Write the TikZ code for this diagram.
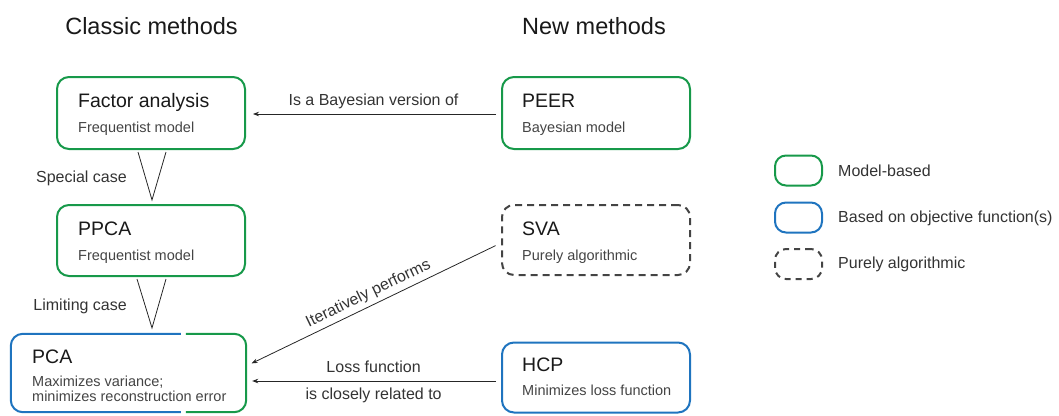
\documentclass[tikz,border=0pt]{standalone}
\usepackage{fontspec}
\setmainfont{Liberation Sans}
\usetikzlibrary{arrows.meta,calc}
\definecolor{mgreen}{HTML}{17994A}
\definecolor{mblue}{HTML}{1F74BF}
\definecolor{dgray}{HTML}{444444}
\definecolor{tgray}{HTML}{333333}
\begin{document}
\begin{tikzpicture}[x=1pt,y=-1pt,
  box/.style={rectangle,rounded corners=12pt,line width=2pt,inner sep=0pt,minimum width=188pt,minimum height=72pt},
  greenbox/.style={box,draw=mgreen},
  bluebox/.style={box,draw=mblue},
  dashbox/.style={box,draw=dgray,dash pattern=on 7pt off 5pt},
  lgbox/.style={rectangle,rounded corners=11pt,line width=2pt,inner sep=0pt,minimum width=47pt,minimum height=30pt},
  ttl/.style={anchor=base west,inner sep=0pt,text=black!90,font=\fontsize{19.5}{22}\selectfont},
  sub/.style={anchor=base west,inner sep=0pt,text=dgray,font=\fontsize{14.5}{15}\selectfont},
  elab/.style={inner sep=0pt,text=tgray,font=\fontsize{16}{18}\selectfont},
  head/.style={anchor=base,inner sep=0pt,text=black!90,font=\fontsize{23.5}{26}\selectfont},
  conn/.style={line width=0.8pt,draw=black!85,-{Stealth[length=6pt,width=4.5pt]}},
  vline/.style={line width=0.8pt,draw=black!85}]
\useasboundingbox (0,0) rectangle (1059,415);
% headings
\node[head] (h1) at (151.5,34) {Classic methods};
\node[head] (h2) at (594,34) {New methods};
% boxes
\node[greenbox] (fa) at (151,113) {};
\node[greenbox,minimum height=71pt] (ppca) at (151,240.5) {};
\node[rectangle,inner sep=0pt,minimum width=235pt,minimum height=80pt] (pca) at (128.5,373) {};
\node[greenbox] (peer) at (596,113) {};
\node[dashbox,minimum height=70pt] (sva) at (596,240) {};
\node[bluebox,minimum height=70pt] (hcp) at (596,377.5) {};
% split PCA border
\draw[mblue,line width=2pt,rounded corners=12pt] ($(pca.north west)+(170,1)$) -- ($(pca.north west)+(0,1)$) -- ($(pca.south west)+(0,-1)$) -- ($(pca.south west)+(170,-1)$);
\draw[mgreen,line width=2pt,rounded corners=12pt] ($(pca.north west)+(175,1)$) -- ($(pca.north east)+(0,1)$) -- ($(pca.south east)+(0,-1)$) -- ($(pca.south west)+(175,-1)$);
% box texts
\node[ttl] (fat) at (78,107.5) {Factor analysis};
\node[sub] (fas) at (78,132) {Frequentist model};
\node[ttl] (ppcat) at (78,235.5) {PPCA};
\node[sub] (ppcas) at (78,260) {Frequentist model};
\node[ttl] (pcat) at (32,363.5) {PCA};
\node[sub] (pcas1) at (32,386.5) {Maximizes variance;};
\node[sub] (pcas2) at (32,401.5) {minimizes reconstruction error};
\node[ttl] (peert) at (522,107.5) {PEER};
\node[sub] (peers) at (522,132) {Bayesian model};
\node[ttl] (svat) at (522,235.5) {SVA};
\node[sub] (svas) at (522,260) {Purely algorithmic};
\node[ttl] (hcpt) at (522,371.5) {HCP};
\node[sub] (hcps) at (522,395.5) {Minimizes loss function};
% V connectors
\coordinate (v1l) at (138,152);
\coordinate (v1a) at (152,200);
\coordinate (v1r) at (166,152);
\draw[vline] (v1l) -- (v1a) -- (v1r);
\coordinate (v2l) at (137,279);
\coordinate (v2a) at (152,328);
\coordinate (v2r) at (166,279);
\draw[vline] (v2l) -- (v2a) -- (v2r);
\node[elab,anchor=base east] (sc) at (127,182) {Special case};
\node[elab,anchor=base east] (lc) at (127,310) {Limiting case};
% arrows
\draw[conn,shorten <=5pt,shorten >=7pt] ([yshift=-1pt]peer.west) -- ([yshift=-1pt]peer.west -| fa.east)
  node[elab,midway,anchor=base,yshift=9pt] (l1) {Is a Bayesian version of};
\draw[conn,shorten <=6pt,shorten >=6pt] ([yshift=-3pt]sva.west) -- ([yshift=7pt]pca.east)
  node[elab,pos=0.5,sloped,above=4pt] (l2) {Iteratively performs};
\draw[conn,shorten <=5pt,shorten >=6pt] ([yshift=-3.5pt]hcp.west) -- ([yshift=-3.5pt]hcp.west -| pca.east)
  node[elab,midway,anchor=base,yshift=9pt] (l3) {Loss function}
  node[elab,midway,anchor=base,yshift=-18pt] (l4) {is closely related to};
% legend
\node[lgbox,draw=mgreen] (lg1) at (798.5,170.5) {};
\node[lgbox,draw=mblue] (lg2) at (798.5,217.5) {};
\node[lgbox,draw=dgray,dash pattern=on 6pt off 5pt] (lg3) at (798.5,264) {};
\node[elab,anchor=base west] (lt1) at (838,176) {Model-based};
\node[elab,anchor=base west] (lt2) at (838,222.5) {Based on objective function(s)};
\node[elab,anchor=base west] (lt3) at (838,268.5) {Purely algorithmic};
\end{tikzpicture}
\end{document}
